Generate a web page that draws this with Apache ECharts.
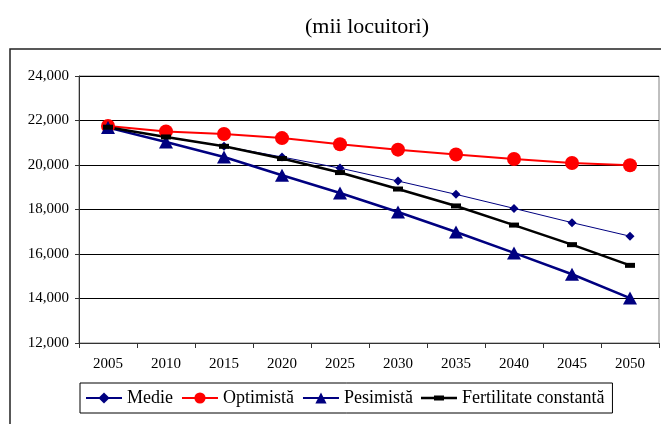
<!DOCTYPE html>
<html>
<head>
<meta charset="utf-8">
<script src="https://cdn.jsdelivr.net/npm/echarts@6/dist/echarts.min.js"></script>
<style>
  html, body { margin: 0; padding: 0; background: #fff; }
  #chart { width: 661px; height: 424px; }
</style>
</head>
<body>
<div id="chart"></div>
<script>
// years on the x axis
const years = ['2005', '2010', '2015', '2020', '2025', '2030', '2035', '2040', '2045', '2050'];

// population scenarios, thousands of inhabitants
const medie = [21700, 21250, 20840, 20360, 19860, 19280, 18680, 18050, 17410, 16800];
const optimista = [21750, 21510, 21390, 21210, 20930, 20690, 20470, 20270, 20090, 19990];
const pesimista = [21680, 21030, 20360, 19540, 18740, 17890, 16990, 16050, 15090, 14020];
const fertilitate = [21700, 21260, 20840, 20290, 19660, 18920, 18160, 17300, 16420, 15490];

const yMin = 12000;
const yMax = 24000;
const yStep = 2000;

const serif = '"Liberation Serif", "DejaVu Serif", serif';

const fmt = (v) => String(v).replace(/\B(?=(\d{3})+(?!\d))/g, ',');

// legend icon for the last series: line with a small dash block in the middle
const dashIcon = 'path://M0,0M36,14M0,5.8H36V8.2H0ZM13,4.5H23V9.5H13Z';

const chart = echarts.init(document.getElementById('chart'), null, { renderer: 'canvas' });

chart.setOption({
  animation: false,
  backgroundColor: '#fff',
  title: {
    text: '(mii locuitori)',
    left: 362,
    top: 11,
    textAlign: 'center',
    textStyle: { fontFamily: serif, fontSize: 22, fontWeight: 'normal', color: '#000' },
  },
  graphic: [
    {
      type: 'rect',
      shape: { x: 10, y: 49, width: 700, height: 420 },
      style: { fill: 'none', stroke: '#222', lineWidth: 1.5 },
      z: -1,
    },
  ],
  grid: {
    left: 79,
    right: 2,
    top: 76,
    bottom: 81,
    show: true,
    borderColor: '#808080',
    borderWidth: 1,
  },
  legend: {
    left: 80,
    top: 383,
    padding: [6, 8, 6, 5],
    itemGap: 8,
    itemWidth: 36,
    itemHeight: 14,
    borderColor: '#000',
    borderWidth: 1,
    textStyle: { fontFamily: serif, fontSize: 18, color: '#000' },
    data: ['Medie', 'Optimistă', 'Pesimistă', { name: 'Fertilitate constantă', icon: dashIcon }],
  },
  xAxis: {
    type: 'category',
    data: years,
    boundaryGap: true,
    axisLine: { lineStyle: { color: '#333', width: 1 } },
    axisTick: { show: true, length: 5, lineStyle: { color: '#333' } },
    axisLabel: { fontFamily: serif, fontSize: 15, color: '#000', margin: 14 },
  },
  yAxis: {
    type: 'value',
    min: yMin,
    max: yMax,
    interval: yStep,
    axisLine: { show: true, lineStyle: { color: '#333', width: 1 } },
    axisTick: { show: true, length: 4, lineStyle: { color: '#333' } },
    axisLabel: { fontFamily: serif, fontSize: 15, color: '#000', margin: 10, formatter: fmt },
    splitLine: { show: true, lineStyle: { color: '#000', width: 1 } },
  },
  series: [
    {
      name: 'Medie',
      type: 'line',
      data: medie,
      symbol: 'diamond',
      symbolSize: 9,
      itemStyle: { color: '#000080' },
      lineStyle: { color: '#000080', width: 1 },
    },
    {
      name: 'Optimistă',
      type: 'line',
      data: optimista,
      symbol: 'circle',
      symbolSize: 14,
      itemStyle: { color: '#ff0000' },
      lineStyle: { color: '#ff0000', width: 2 },
    },
    {
      name: 'Pesimistă',
      type: 'line',
      data: pesimista,
      symbol: 'triangle',
      symbolSize: [14, 13],
      itemStyle: { color: '#000080' },
      lineStyle: { color: '#000080', width: 2.5 },
    },
    {
      name: 'Fertilitate constantă',
      type: 'line',
      data: fertilitate,
      symbol: 'rect',
      symbolSize: [10, 5],
      itemStyle: { color: '#000' },
      lineStyle: { color: '#000', width: 2.5 },
    },
  ],
});
</script>
</body>
</html>
